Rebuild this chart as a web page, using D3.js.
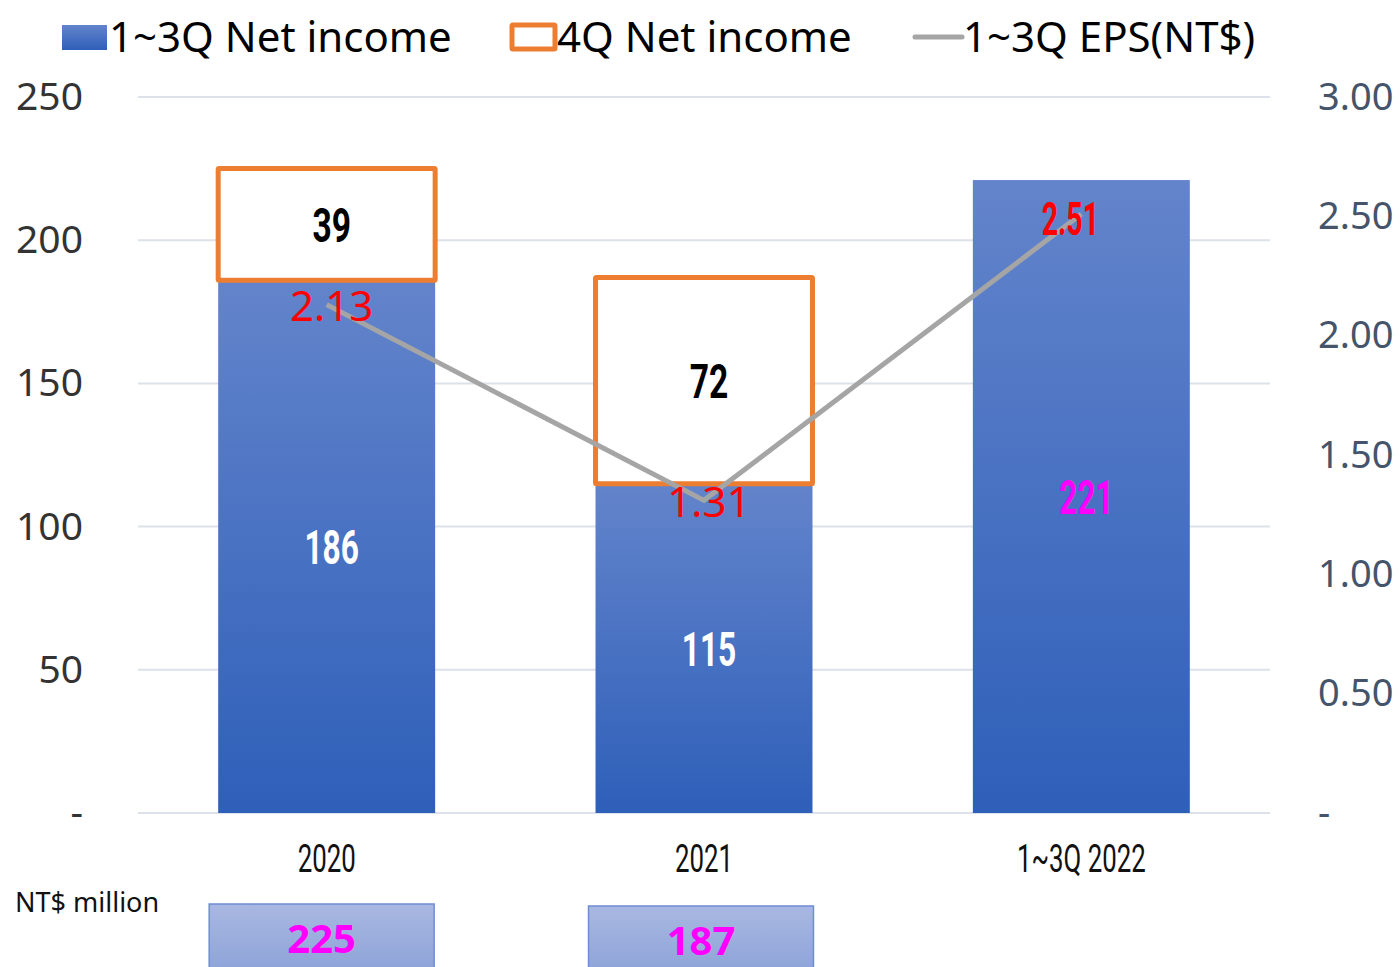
<!DOCTYPE html>
<html>
<head>
<meta charset="utf-8">
<script src="https://cdn.jsdelivr.net/npm/d3@7"></script>
<style>
  body { margin: 0; background: #fff; }
  svg { display: block; }
</style>
</head>
<body>
<div id="chart"></div>
<script>
// Data
const categories = ["2020", "2021", "1~3Q 2022"];
const netIncome13Q = [186, 115, 221];
const netIncome4Q = [39, 72, null];
const fullYear = [225, 187, null];
const eps13Q = [2.13, 1.31, 2.51];
const leftTicks = [0, 50, 100, 150, 200, 250];
const rightTicks = [0, 0.5, 1, 1.5, 2, 2.5, 3];

const width = 1400, height = 967;
const margin = { top: 97, right: 130, bottom: 154, left: 138 };
const plotW = width - margin.left - margin.right;
const plotH = height - margin.top - margin.bottom;

const regularFont = "'Noto Sans', 'Open Sans', sans-serif";
// no condensed face is installed, so narrow text is squeezed with scaleX
const narrowFont = "Roboto, 'Liberation Sans', sans-serif";

const svg = d3.select("#chart").append("svg")
    .attr("width", width)
    .attr("height", height);

const defs = svg.append("defs");
const barGrad = defs.append("linearGradient")
    .attr("id", "barGrad")
    .attr("x1", 0).attr("y1", 0).attr("x2", 0).attr("y2", 1);
barGrad.append("stop").attr("offset", "0%").attr("stop-color", "#6384CB");
barGrad.append("stop").attr("offset", "100%").attr("stop-color", "#2E5FB9");

const boxGrad = defs.append("linearGradient")
    .attr("id", "boxGrad")
    .attr("x1", 0).attr("y1", 0).attr("x2", 0).attr("y2", 1);
boxGrad.append("stop").attr("offset", "0%").attr("stop-color", "#A9B8E1");
boxGrad.append("stop").attr("offset", "100%").attr("stop-color", "#8CA2D8");

const g = svg.append("g")
    .attr("transform", `translate(${margin.left},${margin.top})`);

// Scales
const x = d3.scaleBand()
    .domain(categories)
    .range([0, plotW])
    .paddingInner(0.425)
    .paddingOuter(0.2125);

const y = d3.scaleLinear().domain([0, 250]).range([plotH, 0]);
const y2 = d3.scaleLinear().domain([0, 3]).range([plotH, 0]);

// narrow, tall text centred on (cx, cy)
function narrowText(sel, cx, cy, txt, size, sx, color, weight) {
    sel.append("text")
        .attr("transform", `translate(${cx},${cy}) scale(${sx},1)`)
        .attr("dy", "0.36em")
        .attr("text-anchor", "middle")
        .style("font-family", narrowFont)
        .style("font-weight", weight)
        .style("font-size", size + "px")
        .style("fill", color)
        .text(txt);
}

// Gridlines
g.selectAll(".grid")
    .data(leftTicks)
    .enter()
    .append("line")
    .attr("x1", 0)
    .attr("x2", plotW)
    .attr("y1", d => y(d))
    .attr("y2", d => y(d))
    .attr("stroke", "#DDE2EA")
    .attr("stroke-width", 2);

// Left axis
const yAxis = d3.axisLeft(y)
    .tickValues(leftTicks)
    .tickSize(0)
    .tickPadding(55)
    .tickFormat(d => d === 0 ? "-" : d);
const yAxisG = g.append("g").call(yAxis);
yAxisG.select(".domain").remove();
yAxisG.selectAll("text")
    .style("font-family", regularFont)
    .style("font-size", "39px")
    .style("fill", "#333");

// Right axis
const y2Axis = d3.axisRight(y2)
    .tickValues(rightTicks)
    .tickSize(0)
    .tickPadding(48)
    .tickFormat(d => d === 0 ? "-" : d3.format(".2f")(d));
const y2AxisG = g.append("g")
    .attr("transform", `translate(${plotW},0)`)
    .call(y2Axis);
y2AxisG.select(".domain").remove();
y2AxisG.selectAll("text")
    .style("font-family", regularFont)
    .style("font-size", "38px")
    .style("fill", "#44546A");

// X axis labels (narrow face)
const xAxis = d3.axisBottom(x).tickSize(0).tickFormat("");
const xAxisG = g.append("g")
    .attr("transform", `translate(0,${plotH})`)
    .call(xAxis);
xAxisG.select(".domain").remove();
categories.forEach(c => {
    narrowText(g, x(c) + x.bandwidth() / 2, plotH + 45, c, 38, 0.68, "#111", "normal");
});

// 1~3Q bars
g.selectAll(".bar")
    .data(categories)
    .enter()
    .append("rect")
    .attr("class", "bar")
    .attr("x", d => x(d))
    .attr("y", (d, i) => y(netIncome13Q[i]))
    .attr("width", x.bandwidth())
    .attr("height", (d, i) => plotH - y(netIncome13Q[i]))
    .attr("fill", "url(#barGrad)");

// 4Q boxes
const q4 = categories.map((c, i) => ({ cat: c, base: netIncome13Q[i], v: netIncome4Q[i] }))
    .filter(d => d.v !== null);

g.selectAll(".q4")
    .data(q4)
    .enter()
    .append("rect")
    .attr("class", "q4")
    .attr("x", d => x(d.cat))
    .attr("y", d => y(d.base + d.v))
    .attr("width", x.bandwidth())
    .attr("height", d => y(d.base) - y(d.base + d.v))
    .attr("fill", "#fff")
    .attr("stroke", "#ED7D31")
    .attr("stroke-width", 5)
    .attr("rx", 1);

// EPS line
const line = d3.line()
    .x(d => x(d.cat) + x.bandwidth() / 2)
    .y(d => y2(d.v));
const epsData = categories.map((c, i) => ({ cat: c, v: eps13Q[i] }));

g.append("path")
    .datum(epsData)
    .attr("d", line)
    .attr("fill", "none")
    .attr("stroke", "#A5A5A5")
    .attr("stroke-width", 5);

// Bar value labels
categories.forEach((c, i) => {
    narrowText(g, x(c) + x.bandwidth() / 2 + 5, y(netIncome13Q[i] / 2), netIncome13Q[i],
        48, 0.66, i === 2 ? "#FF00FF" : "#fff", "bold");
});

// 4Q labels
q4.forEach(d => {
    narrowText(g, x(d.cat) + x.bandwidth() / 2 + 5, y(d.base + d.v / 2), d.v, 48, 0.7, "#000", "bold");
});

// EPS labels
epsData.forEach((d, i) => {
    const cx = x(d.cat) + x.bandwidth() / 2;
    if (i === 2) {
        narrowText(g, cx - 11, y2(d.v) + 4, d3.format(".2f")(d.v), 46, 0.62, "#FF0000", "bold");
    } else {
        g.append("text")
            .attr("x", cx + 5)
            .attr("y", y2(d.v) + 2)
            .attr("dy", "0.35em")
            .attr("text-anchor", "middle")
            .style("font-family", regularFont)
            .style("font-size", "42px")
            .style("fill", "#FF0000")
            .text(d3.format(".2f")(d.v));
    }
});

// Full-year total boxes under the axis
const totals = categories.map((c, i) => ({ cat: c, v: fullYear[i] }))
    .filter(d => d.v !== null);

const totalG = g.selectAll(".total")
    .data(totals)
    .enter()
    .append("g")
    .attr("transform", (d, i) => `translate(${x(d.cat) - 9 + (i === 1 ? 2 : 0)},${plotH + 91 + i * 2})`);

totalG.append("rect")
    .attr("width", x.bandwidth() + 8)
    .attr("height", 70)
    .attr("fill", "url(#boxGrad)")
    .attr("stroke", "#6F8DD3")
    .attr("stroke-width", 1.5);

totalG.append("text")
    .attr("x", (x.bandwidth() + 8) / 2)
    .attr("y", 35)
    .attr("dy", "0.35em")
    .attr("text-anchor", "middle")
    .style("font-family", regularFont)
    .style("font-weight", "bold")
    .style("font-size", "40px")
    .style("fill", "#FF00FF")
    .text(d => d.v);

// Unit label
svg.append("text")
    .attr("x", 15)
    .attr("y", 903)
    .attr("dy", "0.35em")
    .style("font-family", regularFont)
    .style("font-size", "27px")
    .style("fill", "#111")
    .text("NT$ million");

// Legend
const legendItems = [
    { label: "1~3Q Net income", type: "bar", x: 62 },
    { label: "4Q Net income", type: "box", x: 510 },
    { label: "1~3Q EPS(NT$)", type: "line", x: 913 }
];

const legend = svg.selectAll(".legend")
    .data(legendItems)
    .enter()
    .append("g")
    .attr("class", "legend")
    .attr("transform", d => `translate(${d.x},37)`);

legend.each(function(d) {
    const lg = d3.select(this);
    if (d.type === "bar") {
        lg.append("rect")
            .attr("x", 0).attr("y", -12)
            .attr("width", 45).attr("height", 25)
            .attr("fill", "url(#barGrad)");
    } else if (d.type === "box") {
        lg.append("rect")
            .attr("x", 2).attr("y", -12)
            .attr("width", 43).attr("height", 24)
            .attr("fill", "#fff")
            .attr("stroke", "#ED7D31")
            .attr("stroke-width", 5)
            .attr("rx", 1);
    } else {
        lg.append("line")
            .attr("x1", 2).attr("x2", 49)
            .attr("y1", 0).attr("y2", 0)
            .attr("stroke", "#A5A5A5")
            .attr("stroke-width", 5)
            .attr("stroke-linecap", "round");
    }
    lg.append("text")
        .attr("x", d.type === "line" ? 50 : 47)
        .attr("y", 0)
        .attr("dy", "0.35em")
        .style("font-family", regularFont)
        .style("font-size", "42px")
        .style("fill", "#000")
        .text(d.label);
});
</script>
</body>
</html>
